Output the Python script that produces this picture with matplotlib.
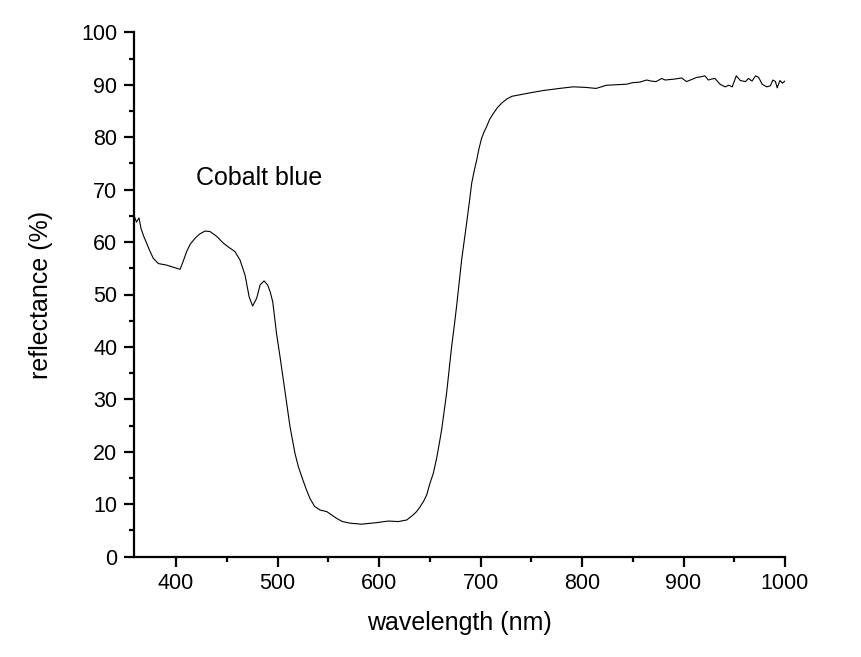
import matplotlib
matplotlib.use("Agg")
import matplotlib.pyplot as plt
from matplotlib.ticker import MultipleLocator

plt.rcParams['font.family'] = ['Liberation Sans', 'DejaVu Sans']

# spectrum
wavelength = [358.6, 361.0, 363.5, 365.5, 368.0, 371.0, 374.0, 377.6, 382.6, 390.8,
              399.0, 404.0, 407.0, 410.5, 414.0, 418.7, 423.0, 428.6, 433.5, 440.0,
              446.6, 452.0, 458.0, 463.0, 468.0, 472.0, 475.5, 479.5, 482.8, 486.7,
              490.3, 492.8, 495.3, 499.0, 502.5, 505.7, 509.0, 512.3, 517.2, 520.5,
              523.8, 528.0, 532.0, 536.5, 541.9, 548.5, 553.0, 558.3, 564.0, 571.4,
              582.9, 597.8, 609.2, 619.0, 627.3, 633.8, 637.0, 640.4, 644.0, 647.0,
              650.2, 653.5, 656.8, 659.4, 661.7, 664.0, 666.6, 669.0, 671.5, 674.0,
              676.4, 679.0, 681.4, 684.0, 686.3, 689.0, 691.3, 693.8, 696.2, 698.6,
              701.1, 703.5, 706.0, 709.0, 712.6, 716.5, 720.9, 726.0, 731.0, 739.0,
              750.0, 762.0, 778.0, 791.0, 803.0, 814.0, 824.0, 834.0, 844.0, 850.0,
              857.0, 863.7, 868.0, 873.0, 878.5, 882.0, 886.7, 892.0, 898.2, 903.0,
              908.0, 913.0, 917.0, 921.0, 924.5, 928.0, 931.0, 936.0, 941.0, 944.6,
              948.0, 952.0, 956.0, 961.0, 964.0, 967.5, 971.0, 974.0, 977.5, 982.0,
              985.6, 988.0, 990.6, 992.3, 995.0, 997.5, 1000.0]
reflectance = [65.1, 63.8, 64.6, 62.6, 61.2, 59.8, 58.4, 56.9, 55.9, 55.6,
               55.1, 54.8, 56.3, 58.2, 59.6, 60.7, 61.5, 62.1, 62.0, 61.1,
               59.8, 59.0, 58.2, 56.6, 53.7, 49.6, 47.8, 49.3, 51.8, 52.6,
               51.8, 50.5, 48.6, 42.6, 38.1, 33.7, 29.3, 24.8, 19.7, 17.2,
               15.3, 13.0, 11.1, 9.6, 8.9, 8.6, 8.0, 7.3, 6.7, 6.4,
               6.2, 6.5, 6.8, 6.7, 7.0, 8.0, 8.6, 9.5, 10.6, 11.8,
               14.0, 15.9, 18.8, 21.6, 24.2, 27.5, 31.2, 35.5, 40.0, 43.8,
               47.7, 52.3, 56.6, 60.3, 63.6, 67.6, 71.2, 73.6, 75.6, 77.9,
               79.8, 81.0, 82.0, 83.4, 84.5, 85.6, 86.5, 87.3, 87.8, 88.1,
               88.5, 88.9, 89.3, 89.6, 89.5, 89.3, 89.9, 90.0, 90.1, 90.4,
               90.5, 90.9, 90.7, 90.6, 91.2, 90.9, 91.0, 91.1, 91.3, 90.6,
               91.0, 91.4, 91.5, 91.7, 90.9, 91.1, 91.2, 90.1, 89.6, 89.9,
               89.6, 91.7, 90.8, 90.6, 91.2, 90.7, 91.7, 91.4, 90.1, 89.6,
               89.8, 90.9, 90.6, 89.4, 90.8, 90.3, 90.7]

fig = plt.figure(figsize=(8.62, 6.57), dpi=100)
ax = fig.add_axes([134 / 862, 1 - 556.7 / 657, (785 - 134) / 862, (556.7 - 32.3) / 657])

ax.plot(wavelength, reflectance, color='black', linewidth=0.8)

ax.set_xlim(358.6, 1000)
ax.set_ylim(0, 100)
ax.xaxis.set_major_locator(MultipleLocator(100))
ax.xaxis.set_minor_locator(MultipleLocator(50))
ax.yaxis.set_major_locator(MultipleLocator(10))
ax.yaxis.set_minor_locator(MultipleLocator(5))

ax.spines['top'].set_visible(False)
ax.spines['right'].set_visible(False)
for s in ['left', 'bottom']:
    ax.spines[s].set_linewidth(1.6)

ax.tick_params(which='major', direction='out', length=7, width=1.6, labelsize=15.5, pad=5)
ax.tick_params(which='minor', direction='out', length=3.5, width=1.6)

ax.set_xlabel("wavelength (nm)", fontsize=18, labelpad=12)
ax.set_ylabel("reflectance (%)", fontsize=18, labelpad=20)

ax.text(419.7, 72.3, "Cobalt blue", fontsize=18, va='center', ha='left')

plt.savefig("out.png", dpi=100)
plt.close()
